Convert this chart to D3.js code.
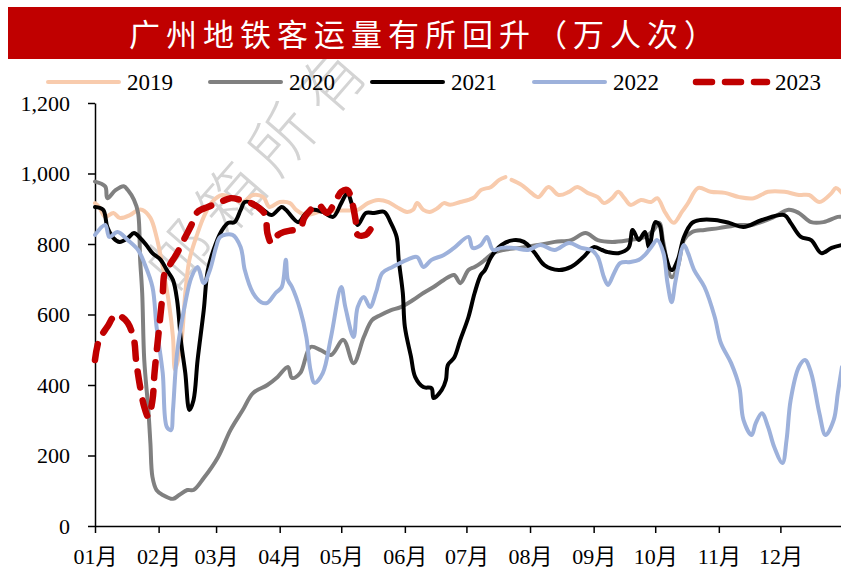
<!DOCTYPE html>
<html>
<head>
<meta charset="utf-8">
<script src="https://cdn.jsdelivr.net/npm/d3@7"></script>
<style>
  body { margin: 0; background: #fff; }
  svg { display: block; }
  text { font-family: "Liberation Serif", "Noto Sans CJK SC", serif; }
</style>
</head>
<body>
<div id="container"></div>
<script>
// day offset from Jan 1, value in 万人次
const monthStarts = [0, 31, 59, 90, 120, 151, 181, 212, 243, 273, 304, 334];
const monthLabels = ['01月', '02月', '03月', '04月', '05月', '06月', '07月', '08月', '09月', '10月', '11月', '12月'];
const yTicks = [0, 200, 400, 600, 800, 1000, 1200];
const years = ['2019', '2020', '2021', '2022', '2023'];

const data2019 = [[0,916],[2,905],[5,877],[9,888],[12,874],[17,882],[21,897],[23,897],[27,874],[30,820],[33,735],[36,633],[38,536],[39,443],[42,519],[44,661],[46,755],[50,831],[53,877],[57,919],[62,939],[67,930],[72,919],[77,939],[82,933],[85,905],[90,919],[95,916],[98,897],[103,882],[110,892],[120,895],[128,897],[133,916],[138,925],[143,919],[147,905],[152,891],[155,897],[157,916],[160,897],[163,891],[167,902],[170,916],[173,911],[178,919],[182,925],[185,933],[188,953],[193,962],[197,982],[200,990],[201,null],[203,982],[208,967],[212,948],[216,933],[221,962],[226,939],[231,948],[235,962],[240,945],[245,933],[248,916],[252,930],[255,948],[258,930],[261,911],[266,925],[271,919],[274,930],[278,888],[282,860],[286,891],[289,916],[294,959],[300,948],[307,945],[314,933],[321,930],[328,948],[336,948],[343,939],[348,939],[353,919],[359,945],[361,959],[364,945]];

const data2020 = [[0,977],[5,963],[6,930],[10,953],[14,964],[16,953],[19,925],[21,888],[22,755],[23,661],[24,471],[26,329],[27,235],[28,139],[30,102],[33,88],[38,77],[41,88],[45,102],[48,102],[53,136],[60,196],[66,272],[72,329],[77,377],[84,400],[89,423],[94,451],[96,420],[100,434],[105,508],[110,499],[115,485],[121,528],[126,462],[131,536],[135,584],[139,598],[144,612],[149,621],[155,641],[160,661],[165,678],[170,698],[175,712],[178,689],[182,726],[185,735],[188,746],[190,755],[194,774],[199,783],[207,789],[216,797],[224,806],[232,811],[239,831],[245,811],[252,806],[260,811],[268,820],[272,838],[275,860],[277,803],[281,706],[284,735],[287,811],[291,834],[297,840],[304,845],[314,854],[320,854],[330,874],[338,897],[343,888],[349,862],[355,862],[362,877],[364,877]];

const data2021 = [[0,905],[4,897],[6,848],[9,817],[12,806],[16,817],[19,831],[22,817],[25,797],[28,774],[32,755],[35,726],[38,698],[40,641],[42,519],[44,434],[46,329],[48,357],[50,471],[53,613],[55,726],[59,803],[62,840],[65,860],[68,862],[71,897],[73,919],[77,916],[82,897],[86,882],[91,905],[93,897],[99,862],[102,882],[105,897],[111,891],[116,877],[120,916],[123,945],[125,916],[128,854],[132,888],[136,888],[141,891],[144,862],[147,820],[148,755],[150,661],[151,565],[154,480],[156,423],[160,394],[164,391],[165,363],[169,386],[171,414],[172,457],[175,477],[178,528],[182,593],[185,661],[188,712],[190,726],[193,763],[198,797],[204,811],[209,806],[214,777],[219,740],[226,726],[232,735],[238,763],[243,791],[247,783],[250,777],[255,774],[260,789],[262,840],[265,811],[268,834],[270,791],[273,862],[275,855],[277,791],[281,726],[284,755],[287,820],[291,860],[295,868],[302,868],[309,860],[316,848],[325,868],[336,882],[339,860],[344,820],[349,811],[354,774],[359,789],[364,797]];

const data2022 = [[0,826],[5,854],[7,820],[11,834],[16,811],[21,783],[24,746],[28,678],[30,565],[33,434],[35,281],[37,272],[38,329],[40,491],[44,633],[47,706],[50,735],[53,689],[56,726],[59,791],[61,820],[67,826],[71,791],[73,726],[77,661],[81,635],[84,633],[88,661],[91,678],[93,755],[94,698],[96,678],[100,613],[103,536],[105,443],[107,406],[111,434],[115,536],[120,678],[122,621],[126,536],[128,621],[131,650],[134,621],[137,664],[140,718],[145,735],[152,755],[157,763],[160,735],[164,755],[170,769],[175,789],[182,820],[184,789],[188,797],[191,820],[194,783],[198,789],[204,789],[211,783],[217,797],[224,783],[231,803],[237,789],[242,783],[245,763],[248,706],[250,684],[253,718],[256,746],[261,749],[265,755],[268,769],[271,791],[274,811],[277,774],[279,689],[281,635],[283,698],[287,797],[289,774],[292,726],[297,678],[302,593],[305,519],[310,462],[314,394],[316,301],[320,258],[322,292],[325,320],[328,281],[331,224],[335,179],[337,244],[339,357],[343,451],[346,471],[349,434],[353,320],[356,258],[360,301],[362,377],[364,451]];

const data2023 = [[0,471],[2,528],[6,565],[10,599],[13,593],[16,576],[19,528],[20,471],[22,394],[24,338],[26,309],[28,357],[29,434],[31,548],[33,661],[34,718],[37,746],[40,774],[44,820],[47,854],[50,891],[55,905],[60,916],[66,930],[71,925],[76,916],[80,902],[83,882],[84,831],[86,803],[89,825],[92,834],[95,838],[100,845],[102,874],[106,902],[109,911],[113,888],[117,919],[120,948],[123,953],[125,925],[127,868],[128,826],[132,826],[135,845],[138,845]];

const seriesData = [data2019, data2020, data2021, data2022, data2023];

const styles = {
  '2019': {color: '#F8CBAD', width: 4},
  '2020': {color: '#808080', width: 4},
  '2021': {color: '#000000', width: 4},
  '2022': {color: '#9DB1DB', width: 4},
  '2023': {color: '#C00000', width: 6.5, dash: '16,13'}
};

const width = 841, height = 569;

const svg = d3.select('#container')
  .append('svg')
  .attr('width', width)
  .attr('height', height);

// watermark sits under everything
svg.append('text')
  .attr('transform', 'translate(177,295) rotate(-49)')
  .attr('font-family', 'Noto Sans CJK SC')
  .attr('font-weight', 300)
  .attr('font-size', 64)
  .attr('letter-spacing', 13)
  .attr('fill', '#d4d4d4')
  .text('邮箱所有');

// title bar
svg.append('rect')
  .attr('x', 8).attr('y', 7)
  .attr('width', 841).attr('height', 52)
  .attr('fill', '#C00000');

svg.append('text')
  .attr('x', 425).attr('y', 46)
  .attr('text-anchor', 'middle')
  .attr('font-family', 'Noto Sans CJK SC')
  .attr('font-size', 31)
  .attr('letter-spacing', 6)
  .attr('fill', '#fff')
  .text('广州地铁客运量有所回升（万人次）');

const x = d3.scaleLinear().domain([0, 365]).range([95, 844]);
const y = d3.scaleLinear().domain([0, 1200]).range([526, 103]);

// axes
const yAxis = svg.append('g')
  .attr('transform', 'translate(95,0)')
  .call(d3.axisLeft(y).tickValues(yTicks).tickFormat(d3.format(',')).tickSize(7).tickSizeOuter(0).tickPadding(18));

const xAxis = svg.append('g')
  .attr('transform', 'translate(0,526)')
  .call(d3.axisBottom(x).tickValues(monthStarts).tickFormat((d, i) => monthLabels[i]).tickSize(7).tickSizeOuter(0).tickPadding(15));

[yAxis, xAxis].forEach(g => {
  g.selectAll('path, line').attr('stroke', '#000').attr('stroke-width', 1.5);
  g.selectAll('text')
    .attr('fill', '#000')
    .attr('font-size', 22)
    .style('font-family', '"Liberation Serif", "Noto Sans CJK SC", serif');
});

// lines
const line = d3.line()
  .defined(d => d[1] !== null)
  .x(d => x(d[0]))
  .y(d => y(d[1]))
  .curve(d3.curveCatmullRom.alpha(0.5));

years.forEach((yr, i) => {
  const s = styles[yr];
  svg.append('path')
    .datum(seriesData[i])
    .attr('d', line)
    .attr('fill', 'none')
    .attr('stroke', s.color)
    .attr('stroke-width', s.width)
    .attr('stroke-linejoin', 'round')
    .attr('stroke-linecap', 'round')
    .attr('stroke-dasharray', s.dash || null);
});

// legend
const legend = svg.append('g');
years.forEach((yr, i) => {
  const s = styles[yr];
  const lx = 48 + i * 162;
  legend.append('line')
    .attr('x1', lx).attr('x2', lx + 71)
    .attr('y1', 82).attr('y2', 82)
    .attr('stroke', s.color)
    .attr('stroke-width', s.dash ? 6.5 : 4)
    .attr('stroke-linecap', 'round')
    .attr('stroke-dasharray', s.dash || null);
  legend.append('text')
    .attr('x', lx + 79).attr('y', 90)
    .attr('font-size', 23)
    .attr('fill', '#000')
    .text(yr);
});
</script>
</body>
</html>
